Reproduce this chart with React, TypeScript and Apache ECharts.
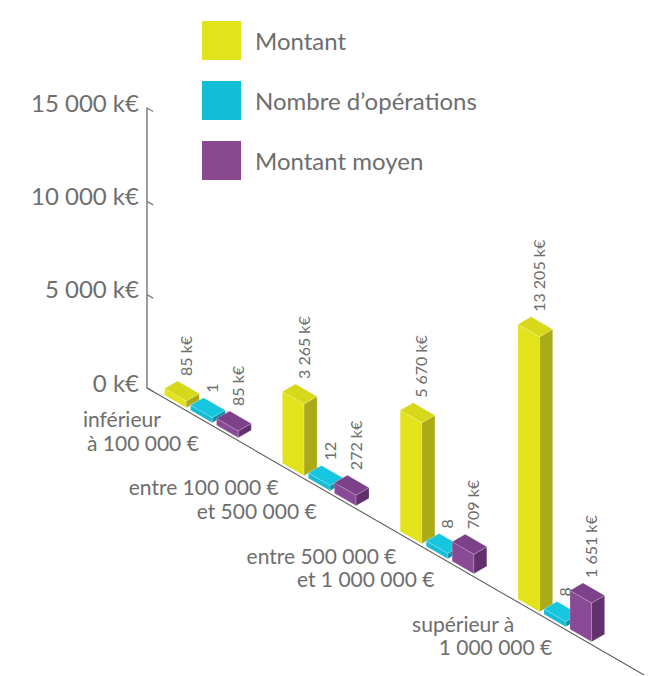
import React, { useEffect, useRef } from "react";
import * as echarts from "echarts";

// ---------- data ----------
const categories = [
  "inférieur\nà 100 000 €",
  "entre 100 000 €\net 500 000 €",
  "entre 500 000 €\net 1 000 000 €",
  "supérieur à\n1 000 000 €",
];
const seriesNames = ["Montant", "Nombre d’opérations", "Montant moyen"];
const montant = [85, 3265, 5670, 13205];
const nombreOperations = [1, 12, 8, 8];
const montantMoyen = [85, 272, 709, 1651];
const yTicks = [0, 5000, 10000, 15000];

// ---------- style constants ----------
const FONT = "Lato";
const TEXT_COLOR = "#6e6e6e";
const AXIS_COLOR = "#7d7d7d";
const C30 = Math.cos(Math.PI / 6);
const S30 = 0.5;
const T30 = S30 / C30;
const X_MIN = -0.44;
const X_MAX = 3.6;
const BAR_W = 25;
const PITCH = 30;
const DEPTH = 15;
const T_OFF = 3;
const MIN_H = 5;

const palettes = [
  { front: "#e3e31b", right: "#abab17", top: "#d8d81a", legend: "#e2e31a" },
  { front: "#13bdd5", right: "#0d93a7", top: "#16c6de", legend: "#12bdd6" },
  { front: "#894a95", right: "#62306d", top: "#7d418a", legend: "#88498f" },
];

const fmt = (v: number) => String(v).replace(/\B(?=(\d{3})+(?!\d))/g, " ");

function boxGeom(k: number, api: any) {
  const i = api.value(0);
  const v = api.value(1);
  const o = api.coord([X_MIN, 0]);
  const c = api.coord([i, 0]);
  const tp = api.coord([i, v]);
  const h = MIN_H + (c[1] - tp[1]);
  const sc = (c[0] - o[0]) / C30;
  const s = sc + (k - 1) * PITCH - BAR_W / 2;
  const t = T_OFF;
  const P = (ss: number, tt: number, hh: number) => [
    o[0] + C30 * (ss + tt),
    o[1] + S30 * (ss - tt) - hh,
  ];
  return { v, h, s, t, P };
}

function barRender(k: number) {
  const pal = palettes[k];
  return (params: any, api: any) => {
    const { h, s, t, P } = boxGeom(k, api);
    const edge = { stroke: "rgba(255,255,255,0.35)", lineWidth: 0.5 };
    const front = [P(s, t, 0), P(s + BAR_W, t, 0), P(s + BAR_W, t, h), P(s, t, h)];
    const right = [
      P(s + BAR_W, t, 0),
      P(s + BAR_W, t + DEPTH, 0),
      P(s + BAR_W, t + DEPTH, h),
      P(s + BAR_W, t, h),
    ];
    const top = [P(s, t, h), P(s + BAR_W, t, h), P(s + BAR_W, t + DEPTH, h), P(s, t + DEPTH, h)];
    return {
      type: "group",
      children: [
        { type: "polygon", shape: { points: front }, style: { fill: pal.front, ...edge } },
        { type: "polygon", shape: { points: right }, style: { fill: pal.right, ...edge } },
        { type: "polygon", shape: { points: top }, style: { fill: pal.top, ...edge } },
      ],
    };
  };
}

function labelRender(k: number, unit: string) {
  return (params: any, api: any) => {
    const { v, h, s, t, P } = boxGeom(k, api);
    const lx = P(s + BAR_W, t, h)[0] - 1;
    const ly = P(s, t + DEPTH, h)[1] - 5;
    return {
      type: "text",
      x: lx,
      y: ly,
      rotation: Math.PI / 2,
      style: {
        text: fmt(v) + unit,
        x: 0,
        y: 0,
        align: "left",
        verticalAlign: "middle",
        fill: TEXT_COLOR,
        fontSize: 16,
        fontFamily: FONT,
      },
    };
  };
}

export default function App() {
  const ref = useRef<HTMLDivElement>(null);
  useEffect(() => {
    if (!ref.current) return;
    const chart = echarts.init(ref.current, null, { renderer: "svg" });
    const barData = (arr: number[]) => arr.map((v, i) => [i, v]);
    const seriesData = [montant, nombreOperations, montantMoyen];
    const units = [" k€", "", " k€"];
    const barSeries = seriesData.map((arr, k) => ({
      type: "custom",
      name: seriesNames[k],
      yAxisIndex: 1,
      z: 2,
      itemStyle: { color: palettes[k].legend },
      data: barData(arr),
      renderItem: barRender(k),
    }));
    const labelSeries = seriesData.map((arr, k) => ({
      type: "custom",
      name: "label-" + k,
      yAxisIndex: 1,
      z: 5,
      silent: true,
      data: barData(arr),
      renderItem: labelRender(k, units[k]),
    }));
    chart.setOption({
      animation: false,
      legend: {
        data: seriesNames,
        orient: "vertical",
        left: 202,
        top: 21,
        padding: 0,
        icon: "rect",
        itemWidth: 39,
        itemHeight: 39,
        itemGap: 21,
        selectedMode: false,
        textStyle: { fontSize: 24, color: TEXT_COLOR, fontFamily: FONT, padding: [0, 0, 0, 9] },
      },
      grid: { left: 147, top: 108, height: 280, width: (X_MAX - X_MIN) * 117.8 },
      xAxis: { type: "value", min: X_MIN, max: X_MAX, show: false },
      yAxis: [
        {
          type: "value",
          min: 0,
          max: 15000,
          interval: 5000,
          axisLine: { show: true, onZero: false, lineStyle: { color: AXIS_COLOR, width: 1.5 } },
          axisTick: { show: false },
          splitLine: { show: false },
          axisLabel: {
            formatter: (v: number) => fmt(v) + " k€",
            fontSize: 24,
            color: TEXT_COLOR,
            fontFamily: FONT,
            margin: 8,
            verticalAlign: "bottom",
            lineHeight: 12,
          },
        },
        { type: "value", min: 0, max: 13700, show: false, axisLine: { onZero: false } },
      ],
      series: [
        {
          type: "custom",
          name: "floor",
          yAxisIndex: 0,
          silent: true,
          data: yTicks.map((v) => [X_MIN, v]),
          renderItem: (params: any, api: any) => {
            const p = api.coord([api.value(0), api.value(1)]);
            const children: any[] = [
              {
                type: "line",
                shape: { x1: p[0], y1: p[1], x2: p[0] + 7 * C30, y2: p[1] + 7 * S30 },
                style: { stroke: AXIS_COLOR, lineWidth: 1.3 },
              },
            ];
            if (params.dataIndex === 0) {
              const L = (api.getHeight() - 1 - p[1]) / S30;
              children.push({
                type: "line",
                shape: { x1: p[0], y1: p[1], x2: p[0] + L * C30, y2: p[1] + L * S30 },
                style: { stroke: "#5f5f5f", lineWidth: 1.1 },
              });
            }
            return { type: "group", children };
          },
        },
        {
          type: "custom",
          name: "categories",
          yAxisIndex: 1,
          silent: true,
          data: categories.map((_, i) => [i, 0]),
          renderItem: (params: any, api: any) => {
            const o = api.coord([X_MIN, 0]);
            const c = api.coord([api.value(0), 0]);
            const lines = categories[params.dataIndex].split("\n");
            const rx0 = c[0] - 38;
            const fy0 = o[1] + (rx0 - o[0]) * T30 + 23;
            return {
              type: "group",
              children: lines.map((ln, j) => ({
                type: "text",
                x: rx0 + j * 38,
                y: fy0 + j * 23.5,
                style: {
                  text: ln,
                  x: 0,
                  y: 0,
                  align: "right",
                  verticalAlign: "middle",
                  fill: TEXT_COLOR,
                  fontSize: 21,
                  fontFamily: FONT,
                },
              })),
            };
          },
        },
        ...barSeries,
        ...labelSeries,
      ],
    });
    return () => chart.dispose();
  }, []);
  return (
    <div
      ref={ref}
      style={{ position: "absolute", left: 0, top: 0, width: 656, height: 676, background: "#fff" }}
    />
  );
}
